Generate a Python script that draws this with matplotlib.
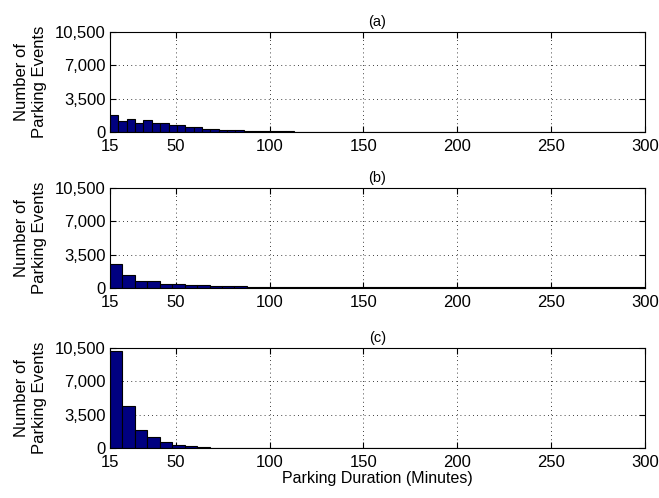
import numpy as np
import matplotlib.pyplot as plt
from matplotlib.ticker import StrMethodFormatter

plt.rcParams['font.family'] = ['Liberation Sans', 'DejaVu Sans']

# Histogram counts (bins span 15..300 minutes)
counts_a = [1820, 1155, 1400, 980, 1225, 945, 980, 700, 770, 525, 525, 350, 350,
            245, 245, 175, 140, 105, 105, 70, 60, 50, 40, 30, 20, 15, 10, 10, 8,
            8, 6, 6, 5, 5, 4, 4, 3, 3, 3, 3, 2, 2, 2, 2, 2, 2, 1, 1, 1, 1, 1,
            1, 1, 1, 1, 1, 1, 1, 1, 1, 1, 1, 1, 1]
counts_b = [2555, 1330, 770, 700, 455, 420, 315, 350, 245, 245, 175, 105, 105,
            140, 105, 90, 100, 90, 110, 90, 95, 150, 100, 95, 90, 100, 90, 85,
            85, 85, 80, 80, 80, 80, 80, 80, 80, 80, 80, 75, 75, 75, 140]
counts_c = [10185, 4410, 1925, 1155, 595, 350, 210, 105, 35, 20, 10, 8, 6, 5, 4,
            3, 3, 2, 2, 2, 1, 1, 1, 1, 1, 1, 1, 1, 1, 1, 1, 1, 1, 1, 1, 1, 1, 1,
            1, 1, 1, 1, 1]
panel_titles = ['(a)', '(b)', '(c)']
x_ticks = [15, 50, 100, 150, 200, 250, 300]
y_ticks = [0, 3500, 7000, 10500]

fig = plt.figure(figsize=(6.59, 4.98), dpi=100)
bottoms = [0.735, 0.4217, 0.1004]

for i, counts in enumerate([counts_a, counts_b, counts_c]):
    ax = fig.add_axes([0.1669, bottoms[i], 0.8118, 0.2008])
    edges = np.linspace(15, 300, len(counts) + 1)
    ax.bar(edges[:-1], counts, width=np.diff(edges), align='edge',
           color='#000080', edgecolor='black', linewidth=0.8, zorder=2)
    ax.set_xlim(15, 300)
    ax.set_ylim(0, 10500)
    ax.set_xticks(x_ticks)
    ax.set_yticks(y_ticks)
    ax.yaxis.set_major_formatter(StrMethodFormatter('{x:,.0f}'))
    ax.grid(True, color='black', linestyle=(0, (1, 4)), linewidth=0.6, zorder=0)
    ax.tick_params(direction='in', top=True, right=True, labelsize=12, length=4)
    ax.tick_params(axis='x', pad=5)
    ax.tick_params(axis='y', pad=3)
    ax.set_title(panel_titles[i], fontsize=10.5, pad=4)
    ax.set_ylabel('Number of\nParking Events', fontsize=12, labelpad=6)
    for s in ax.spines.values():
        s.set_linewidth(0.8)

ax.set_xlabel('Parking Duration (Minutes)', fontsize=11.5, labelpad=1)

plt.savefig('out.png', dpi=100)
